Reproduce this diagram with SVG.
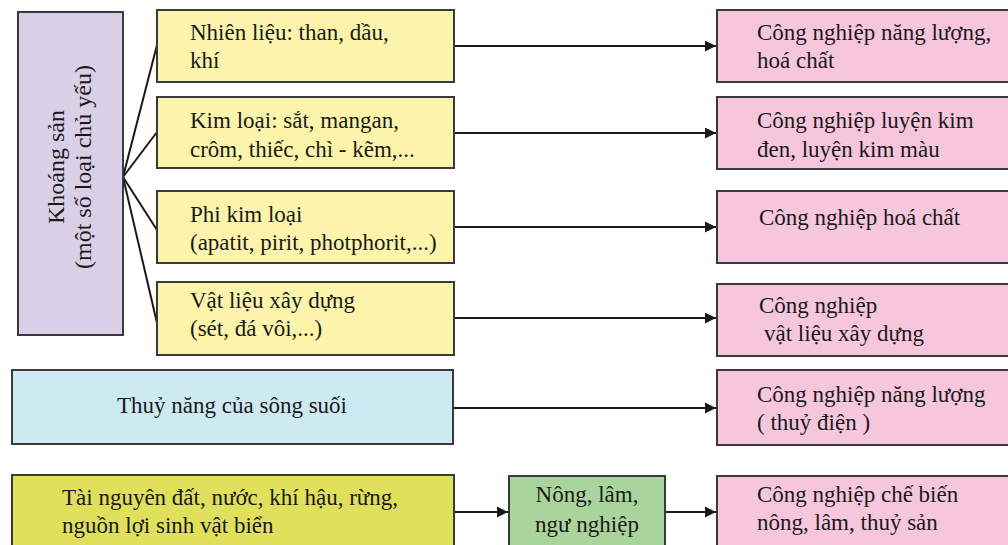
<svg xmlns="http://www.w3.org/2000/svg" width="1008" height="545" viewBox="0 0 1008 545">
<style>
.box{stroke:#3a3a3a;stroke-width:2}
.t{font-family:"Liberation Serif","Times New Roman",serif;font-size:23px;fill:#1a1a1a}
.v{font-size:24px}
.c{stroke:#1a1a1a;stroke-width:2;fill:none}
.y{fill:#fcf4ab}.p{fill:#f6c6dc}
</style>
<defs>
<marker id="ah" viewBox="0 0 10 10" refX="10" refY="5" markerWidth="5.5" markerHeight="5.5" orient="auto" markerUnits="strokeWidth">
<path d="M0,0 L10,5 L0,10 z" fill="#1a1a1a"/>
</marker>
</defs>
<rect width="1008" height="545" fill="#fff"/>
<g id="connectors">
<line class="c" x1="123" y1="177" x2="157" y2="45"/>
<line class="c" x1="123" y1="177" x2="157" y2="132"/>
<line class="c" x1="123" y1="177" x2="157" y2="230"/>
<line class="c" x1="123" y1="177" x2="157" y2="323"/>
<line class="c" x1="454" y1="46" x2="716" y2="46" marker-end="url(#ah)"/>
<line class="c" x1="454" y1="133" x2="716" y2="133" marker-end="url(#ah)"/>
<line class="c" x1="454" y1="227" x2="716" y2="227" marker-end="url(#ah)"/>
<line class="c" x1="454" y1="318" x2="716" y2="318" marker-end="url(#ah)"/>
<line class="c" x1="454" y1="408" x2="716" y2="408" marker-end="url(#ah)"/>
<line class="c" x1="454" y1="512" x2="508" y2="512" marker-end="url(#ah)"/>
<line class="c" x1="665" y1="512" x2="716" y2="512" marker-end="url(#ah)"/>
</g>
<g id="khoangsan">
<rect class="box" x="18" y="12" width="105" height="323" fill="#d9cfe6"/>
<text class="t v" transform="translate(64,167) rotate(-90)" text-anchor="middle">Khoáng sản</text>
<text class="t v" transform="translate(91,167) rotate(-90)" text-anchor="middle">(một số loại chủ yếu)</text>
</g>
<g id="nhienlieu">
<rect class="box y" x="157" y="10" width="297" height="72"/>
<text class="t" x="190" y="40">Nhiên liệu: than, dầu,</text>
<text class="t" x="190" y="68">khí</text>
</g>
<g id="kimloai">
<rect class="box y" x="157" y="97" width="297" height="71"/>
<text class="t" x="190" y="128">Kim loại: sắt, mangan,</text>
<text class="t" x="190" y="157">crôm, thiếc, chì - kẽm,...</text>
</g>
<g id="phikimloai">
<rect class="box y" x="157" y="191" width="297" height="72"/>
<text class="t" x="190" y="222">Phi kim loại</text>
<text class="t" x="190" y="250">(apatit, pirit, photphorit,...)</text>
</g>
<g id="vatlieu">
<rect class="box y" x="157" y="282" width="297" height="73"/>
<text class="t" x="190" y="308">Vật liệu xây dựng</text>
<text class="t" x="190" y="336">(sét, đá vôi,...)</text>
</g>
<g id="thuynang">
<rect class="box" x="12" y="370" width="441" height="74" fill="#cde9f2"/>
<text class="t" x="232" y="413" text-anchor="middle">Thuỷ năng của sông suối</text>
</g>
<g id="tainguyen">
<rect class="box" x="12" y="475" width="442" height="80" fill="#dfe05c"/>
<text class="t" x="62" y="505">Tài nguyên đất, nước, khí hậu, rừng,</text>
<text class="t" x="62" y="533">nguồn lợi sinh vật biển</text>
</g>
<g id="nonglam">
<rect class="box" x="509" y="476" width="156" height="80" fill="#a9d59c"/>
<text class="t" x="587" y="502" text-anchor="middle">Nông, lâm,</text>
<text class="t" x="587" y="532" text-anchor="middle">ngư nghiệp</text>
</g>
<g id="cn1">
<rect class="box p" x="717" y="10" width="300" height="72"/>
<text class="t" x="757" y="40">Công nghiệp năng lượng,</text>
<text class="t" x="757" y="68">hoá chất</text>
</g>
<g id="cn2">
<rect class="box p" x="717" y="97" width="300" height="72"/>
<text class="t" x="757" y="128">Công nghiệp luyện kim</text>
<text class="t" x="757" y="157">đen, luyện kim màu</text>
</g>
<g id="cn3">
<rect class="box p" x="717" y="191" width="300" height="72"/>
<text class="t" x="759" y="225">Công nghiệp hoá chất</text>
</g>
<g id="cn4">
<rect class="box p" x="717" y="284" width="300" height="72"/>
<text class="t" x="759" y="313">Công nghiệp</text>
<text class="t" x="764" y="341">vật liệu xây dựng</text>
</g>
<g id="cn5">
<rect class="box p" x="717" y="370" width="300" height="75"/>
<text class="t" x="757" y="402">Công nghiệp năng lượng</text>
<text class="t" x="757" y="430">( thuỷ điện )</text>
</g>
<g id="cn6">
<rect class="box p" x="717" y="476" width="300" height="80"/>
<text class="t" x="757" y="502">Công nghiệp chế biến</text>
<text class="t" x="757" y="530">nông, lâm, thuỷ sản</text>
</g>
</svg>
